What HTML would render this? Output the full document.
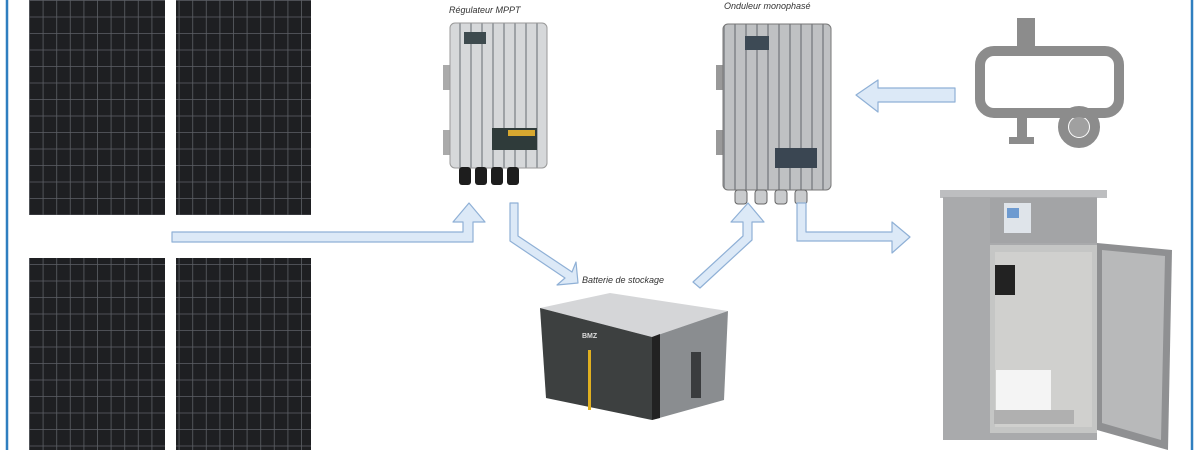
<!DOCTYPE html>
<html><head><meta charset="utf-8"><style>
html,body{margin:0;padding:0;background:#fff}
svg{display:block}
text{font-family:"Liberation Sans",sans-serif;font-style:italic;font-size:9px;fill:#333}
</style></head><body>
<svg width="1200" height="450" viewBox="0 0 1200 450" xmlns="http://www.w3.org/2000/svg">
<defs>
<pattern id="cells" x="29" y="0" width="13.6" height="16.5" patternUnits="userSpaceOnUse">
<rect width="13.6" height="16.5" fill="#1e1f22"/>
<path d="M0 0.5H13.6M0.5 0V16.5" stroke="#5c5f65" stroke-width="0.8"/>
</pattern>
<pattern id="ribs" width="11" height="10" patternUnits="userSpaceOnUse"><rect width="11" height="10" fill="#d6d8da"/><rect x="8" width="2" height="10" fill="#9ea2a6"/></pattern>
<pattern id="ribs2" width="11" height="10" patternUnits="userSpaceOnUse"><rect width="11" height="10" fill="#bfc1c3"/><rect x="8" width="2" height="10" fill="#909397"/></pattern>
</defs>
<rect x="7" y="-2" width="1185" height="460" fill="none" stroke="#2f7fc0" stroke-width="2.5"/>
<!-- panels -->
<rect x="29" y="0" width="136" height="215" fill="url(#cells)"/>
<rect x="176" y="0" width="135" height="215" fill="url(#cells)"/>
<rect x="29" y="258" width="136" height="195" fill="url(#cells)"/>
<rect x="176" y="258" width="135" height="195" fill="url(#cells)"/>
<!-- labels -->
<text x="449" y="13">Régulateur MPPT</text>
<text x="724" y="9">Onduleur monophasé</text>
<text x="582" y="283">Batterie de stockage</text>
<!-- regulator -->
<rect x="443" y="65" width="8" height="25" fill="#aaa"/><rect x="443" y="130" width="8" height="25" fill="#aaa"/>
<rect x="450" y="23" width="97" height="145" rx="5" fill="url(#ribs)" stroke="#999"/>
<rect x="464" y="32" width="22" height="12" fill="#3d4a4e"/>
<rect x="492" y="128" width="45" height="22" fill="#2f3b3a"/><rect x="508" y="130" width="27" height="6" fill="#d8a830"/>
<g fill="#1d1d1d"><rect x="459" y="167" width="12" height="18" rx="3"/><rect x="475" y="167" width="12" height="18" rx="3"/><rect x="491" y="167" width="12" height="18" rx="3"/><rect x="507" y="167" width="12" height="18" rx="3"/></g>
<!-- inverter -->
<rect x="716" y="65" width="8" height="25" fill="#999"/><rect x="716" y="130" width="8" height="25" fill="#999"/>
<rect x="723" y="24" width="108" height="166" rx="5" fill="url(#ribs2)" stroke="#777"/>
<rect x="745" y="36" width="24" height="14" fill="#3d4a55"/>
<rect x="775" y="148" width="42" height="20" fill="#3a4652"/>
<g fill="#c9cbcd" stroke="#666"><rect x="735" y="190" width="12" height="14" rx="3"/><rect x="755" y="190" width="12" height="14" rx="3"/><rect x="775" y="190" width="12" height="14" rx="3"/><rect x="795" y="190" width="12" height="14" rx="3"/></g>
<!-- generator -->
<g fill="none" stroke="#8c8c8c" stroke-width="10">
<rect x="980" y="51" width="139" height="62" rx="14"/>
<circle cx="1079" cy="127" r="16"/>
</g>
<rect x="1017" y="18" width="18" height="30" fill="#8c8c8c"/>
<rect x="1017" y="112" width="10" height="28" fill="#8c8c8c"/>
<rect x="1009" y="137" width="25" height="7" fill="#8c8c8c"/>
<circle cx="1079" cy="127" r="10" fill="#a0a0a0"/>
<!-- battery -->
<polygon points="540,308 610,293 728,311 652,337" fill="#d5d6d8"/>
<polygon points="540,308 652,337 652,420 546,398" fill="#3d4040"/>
<polygon points="652,337 728,311 724,400 652,420" fill="#8a8d90"/>
<polygon points="652,337 660,334 660,418 652,420" fill="#222"/>
<rect x="691" y="352" width="10" height="46" fill="#3a3c3e"/>
<rect x="588" y="350" width="3" height="60" fill="#e0b020"/>
<text x="582" y="338" style="font-size:7px;fill:#ddd;font-style:normal;font-weight:bold">BMZ</text>
<!-- sampler -->
<rect x="940" y="190" width="167" height="8" fill="#bdbec0"/>
<rect x="943" y="197" width="154" height="243" fill="#a9aaac"/>
<rect x="990" y="198" width="107" height="45" fill="#a3a4a6"/>
<rect x="1004" y="203" width="27" height="30" fill="#dfe4ea"/><rect x="1007" y="208" width="12" height="10" fill="#6d9ad0"/>
<rect x="990" y="245" width="107" height="188" fill="#c5c6c5"/>
<rect x="995" y="252" width="97" height="175" fill="#d0d0ce"/>
<rect x="996" y="370" width="55" height="45" fill="#f4f4f4"/>
<rect x="994" y="410" width="80" height="14" fill="#b0b0b0"/>
<rect x="995" y="265" width="20" height="30" fill="#222"/>
<polygon points="1097,243 1172,250 1168,450 1097,430" fill="#8f9092"/>
<polygon points="1102,250 1165,256 1161,440 1102,423" fill="#b8b9ba"/>
<!-- arrows -->
<g fill="#dce9f7" stroke="#8fb0d6" stroke-width="1.2" stroke-linejoin="round">
<path d="M172,232 H463 V222 H453 L469,203 L485,222 H473 V242 H172 Z"/>
<path d="M510,203 H518 V236 L572,272 L576,262 L578,283 L557,285 L565,278 L510,241 Z"/>
<path d="M693,282 L743,236 V222 H731 L748,203 L764,222 H752 V240 L700,288 Z"/>
<path d="M797,203 H806 V232 H892 V222 L910,237 L892,253 V241 H797 Z"/>
<path d="M955,88 H878 V80 L856,95 L878,112 V102 H955 Z"/>
</g>
</svg>
</body></html>
